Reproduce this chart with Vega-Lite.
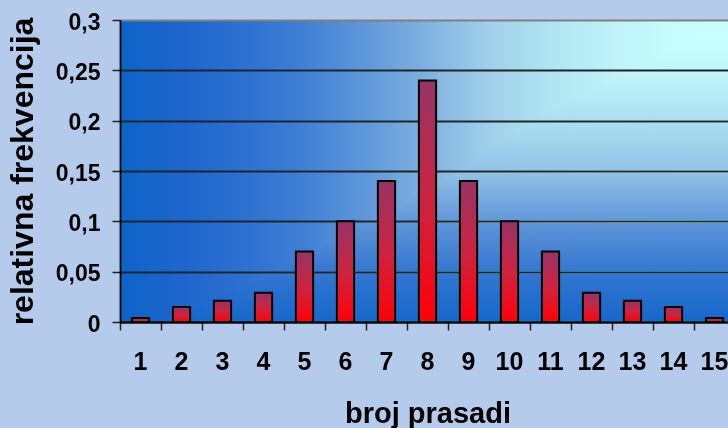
{
  "$schema": "https://vega.github.io/schema/vega-lite/v6.json",
  "autosize": "none",
  "padding": {"left": 120, "top": 20, "right": 0, "bottom": 106},
  "width": 615,
  "height": 302,
  "background": "#b4cbeb",
  "view": {
    "stroke": null,
    "fill": {
      "gradient": "linear",
      "x1": 0, "y1": 0, "x2": 1, "y2": 0,
      "stops": [
        {"offset": 0, "color": "#0c64c8"},
        {"offset": 0.1, "color": "#1e66cc"},
        {"offset": 0.2, "color": "#2c70d0"},
        {"offset": 0.3, "color": "#4080d4"},
        {"offset": 0.4, "color": "#5f98da"},
        {"offset": 0.5, "color": "#80b2e0"},
        {"offset": 0.6, "color": "#a0d0ea"},
        {"offset": 0.7, "color": "#b0e4f2"},
        {"offset": 0.8, "color": "#bef2f8"},
        {"offset": 0.9, "color": "#c6fcfc"},
        {"offset": 1, "color": "#c8ffff"}
      ]
    }
  },
  "data": {
    "values": [
      {"broj": 1, "f": 0.004},
      {"broj": 2, "f": 0.015},
      {"broj": 3, "f": 0.021},
      {"broj": 4, "f": 0.029},
      {"broj": 5, "f": 0.07},
      {"broj": 6, "f": 0.1},
      {"broj": 7, "f": 0.14},
      {"broj": 8, "f": 0.24},
      {"broj": 9, "f": 0.14},
      {"broj": 10, "f": 0.1},
      {"broj": 11, "f": 0.07},
      {"broj": 12, "f": 0.029},
      {"broj": 13, "f": 0.021},
      {"broj": 14, "f": 0.015},
      {"broj": 15, "f": 0.004}
    ]
  },
  "encoding": {
    "x": {
      "field": "broj",
      "type": "ordinal",
      "sort": null,
      "scale": {"paddingInner": 0, "paddingOuter": 0},
      "axis": {
        "title": "broj prasadi",
        "titleFontSize": 29,
        "titleY": 100,
        "titleBaseline": "alphabetic",
        "labelAngle": 0,
        "labelFontSize": 25,
        "labelBaseline": "alphabetic",
        "labelPadding": 39,
        "labelOverlap": false,
        "bandPosition": 0,
        "tickSize": 8,
        "tickWidth": 1.5,
        "tickColor": "#222222",
        "domainColor": "#000000",
        "domainWidth": 1.8,
        "grid": false
      }
    }
  },
  "layer": [
    {
      "mark": {
        "type": "rect",
        "blend": "darken",
        "fill": {
          "gradient": "linear",
          "x1": 0, "y1": 0, "x2": 0, "y2": 1,
          "stops": [
            {"offset": 0, "color": "#c8ffff"},
            {"offset": 0.1, "color": "#c6fcfc"},
            {"offset": 0.2, "color": "#bef2f8"},
            {"offset": 0.3, "color": "#b0e4f2"},
            {"offset": 0.4, "color": "#a2d4ec"},
            {"offset": 0.5, "color": "#92c4e6"},
            {"offset": 0.6, "color": "#74a8de"},
            {"offset": 0.7, "color": "#5890d8"},
            {"offset": 0.8, "color": "#3c7cd2"},
            {"offset": 0.9, "color": "#2670ce"},
            {"offset": 1, "color": "#1668cc"}
          ]
        }
      },
      "encoding": {
        "y": {"datum": 0.3, "type": "quantitative"},
        "y2": {"datum": 0}
      }
    },
    {
      "mark": {
        "type": "bar",
        "width": {"band": 0.42},
        "stroke": "#000000",
        "strokeWidth": 2,
        "fill": {
          "gradient": "linear",
          "x1": 0, "y1": 0, "x2": 0, "y2": 1,
          "stops": [
            {"offset": 0, "color": "#963366"},
            {"offset": 0.5, "color": "#cc2440"},
            {"offset": 1, "color": "#ff0008"}
          ]
        }
      },
      "encoding": {
        "y": {
          "field": "f",
          "type": "quantitative",
          "scale": {"domain": [0, 0.3], "nice": false},
          "axis": {
            "title": "relativna frekvencija",
            "titleFontSize": 32,
            "titleX": -88,
            "titleBaseline": "alphabetic",
            "values": [0, 0.05, 0.1, 0.15, 0.2, 0.25, 0.3],
            "labelExpr": "replace(toString(datum.value), '.', ',')",
            "labelFontSize": 23,
            "labelBaseline": "alphabetic",
            "labelOffset": 9,
            "labelPadding": 12,
            "tickSize": 8,
            "tickWidth": 1.5,
            "tickColor": "#222222",
            "domainColor": "#000000",
            "domainWidth": 1.8,
            "grid": true,
            "gridColor": {"condition": {"test": "datum.value == 0.3", "value": "#808080"}, "value": "#1e262c"},
            "gridWidth": 1.8,
            "gridOpacity": 1
          }
        }
      }
    }
  ],
  "config": {
    "axis": {
      "labelFont": "Liberation Sans",
      "labelFontWeight": "bold",
      "labelColor": "#000000",
      "titleFont": "Liberation Sans",
      "titleFontWeight": "bold",
      "titleColor": "#000000"
    }
  }
}
